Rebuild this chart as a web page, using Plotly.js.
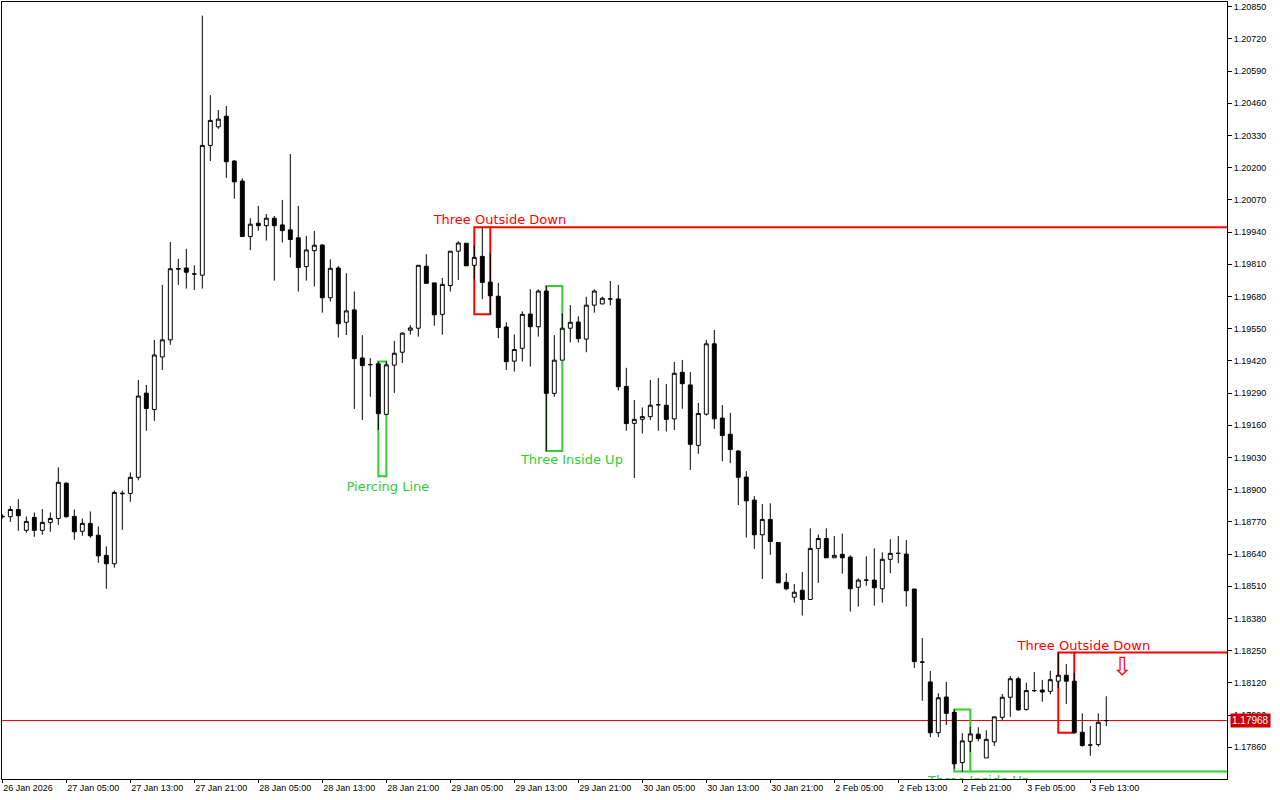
<!DOCTYPE html>
<html>
<head>
<meta charset="utf-8">
<script src="https://cdn.plot.ly/plotly-3.0.1.min.js"></script>
<style>html,body{margin:0;padding:0;background:#fff;}#chart{width:1280px;height:800px;}</style>
</head>
<body>
<div id="chart"></div>
<script>
// EURUSD H1 — bars from 26 Jan 2026 21:00 to 3 Feb 2026 15:00
const open = [
1.18793,1.18791,1.18820,1.18736,1.18788,1.18736,1.18768,1.18784,1.18926,1.18792,
1.18732,1.18764,1.18716,1.18635,1.18601,1.18886,1.18885,1.18950,1.19290,1.19224,
1.19436,1.19505,1.19793,1.19795,1.19771,1.19766,1.20290,1.20365,1.20408,1.20227,
1.20146,1.19922,1.19976,1.19966,1.19996,1.19969,1.19949,1.19917,1.19801,1.19865,
1.19888,1.19675,1.19795,1.19576,1.19626,1.19432,1.19405,1.19408,1.19204,1.19403,
1.19455,1.19544,1.19552,1.19802,1.19735,1.19608,1.19724,1.19863,1.19895,1.19806,
1.19842,1.19738,1.19681,1.19557,1.19419,1.19471,1.19609,1.19558,1.19702,1.19289,
1.19423,1.19552,1.19577,1.19508,1.19645,1.19650,1.19670,1.19670,1.19317,1.19168,
1.19184,1.19195,1.19243,1.19241,1.19186,1.19374,1.19323,1.19079,1.19205,1.19489,
1.19189,1.19124,1.19056,1.18951,1.18858,1.18718,1.18780,1.18687,1.18526,1.18466,
1.18494,1.18457,1.18663,1.18703,1.18625,1.18639,1.18628,1.18506,1.18535,1.18535,
1.18500,1.18619,1.18643,1.18640,1.18499,1.18204,1.18124,1.17919,1.18063,1.18001,
1.17798,1.17884,1.17913,1.17817,1.17882,1.17981,1.18062,1.18137,1.18013,1.18089,
1.18091,1.18086,1.18127,1.18151,1.18127,1.17921,1.17869,1.17871,1.17968];
const high = [
1.18801,1.18834,1.18862,1.18792,1.18808,1.18822,1.18808,1.18990,1.18930,1.18820,
1.18784,1.18812,1.18752,1.18671,1.18897,1.18897,1.18970,1.19343,1.19323,1.19505,
1.19727,1.19900,1.19832,1.19873,1.19806,1.20814,1.20493,1.20433,1.20449,1.20230,
1.20157,1.19996,1.20046,1.20013,1.20005,1.20070,1.20255,1.20046,1.19925,1.19945,
1.19891,1.19830,1.19803,1.19774,1.19700,1.19524,1.19431,1.19417,1.19418,1.19501,
1.19536,1.19564,1.19806,1.19851,1.19735,1.19755,1.19863,1.19903,1.19895,1.19887,
1.19960,1.19855,1.19735,1.19576,1.19527,1.19620,1.19709,1.19709,1.19723,1.19524,
1.19612,1.19645,1.19600,1.19679,1.19709,1.19679,1.19743,1.19727,1.19392,1.19262,
1.19232,1.19343,1.19351,1.19327,1.19416,1.19424,1.19375,1.19250,1.19505,1.19545,
1.19242,1.19210,1.19060,1.18975,1.18874,1.18842,1.18845,1.18687,1.18563,1.18519,
1.18568,1.18744,1.18719,1.18744,1.18713,1.18723,1.18635,1.18542,1.18631,1.18663,
1.18647,1.18700,1.18713,1.18697,1.18499,1.18301,1.18168,1.18078,1.18124,1.18013,
1.17917,1.17943,1.17941,1.17929,1.17983,1.18075,1.18148,1.18145,1.18121,1.18164,
1.18132,1.18169,1.18243,1.18196,1.18161,1.17997,1.17946,1.17997,1.18066];
const low = [
1.18783,1.18770,1.18734,1.18726,1.18710,1.18718,1.18730,1.18758,1.18787,1.18698,
1.18714,1.18706,1.18605,1.18500,1.18585,1.18738,1.18851,1.18938,1.19138,1.19178,
1.19383,1.19485,1.19727,1.19712,1.19706,1.19712,1.20227,1.20357,1.20159,1.20075,
1.19922,1.19867,1.19946,1.19906,1.19744,1.19898,1.19837,1.19700,1.19744,1.19720,
1.19615,1.19659,1.19514,1.19524,1.19226,1.19181,1.19275,1.19141,1.19204,1.19291,
1.19412,1.19526,1.19518,1.19733,1.19562,1.19526,1.19700,1.19747,1.19804,1.19749,
1.19669,1.19608,1.19512,1.19383,1.19377,1.19417,1.19397,1.19518,1.19056,1.19275,
1.19423,1.19495,1.19494,1.19455,1.19615,1.19649,1.19644,1.19300,1.19138,1.18947,
1.19127,1.19181,1.19138,1.19135,1.19141,1.19227,1.18980,1.19045,1.19199,1.19146,
1.19015,1.19007,1.18838,1.18707,1.18661,1.18540,1.18637,1.18524,1.18494,1.18444,
1.18392,1.18457,1.18524,1.18625,1.18625,1.18561,1.18408,1.18428,1.18512,1.18432,
1.18444,1.18563,1.18603,1.18428,1.18180,1.18048,1.17901,1.17901,1.17950,1.17773,
1.17762,1.17841,1.17884,1.17817,1.17865,1.17970,1.17983,1.18008,1.18008,1.18083,
1.18044,1.18074,1.18099,1.18035,1.17919,1.17863,1.17826,1.17863,1.17946];
const close = [
1.18791,1.18820,1.18795,1.18772,1.18736,1.18768,1.18784,1.18930,1.18791,1.18730,
1.18764,1.18714,1.18633,1.18601,1.18889,1.18884,1.18950,1.19278,1.19228,1.19444,
1.19505,1.19792,1.19791,1.19778,1.19771,1.20290,1.20391,1.20396,1.20224,1.20143,
1.19922,1.19972,1.19966,1.19996,1.19966,1.19946,1.19910,1.19797,1.19868,1.19887,
1.19675,1.19794,1.19570,1.19622,1.19429,1.19401,1.19405,1.19207,1.19404,1.19451,
1.19532,1.19553,1.19806,1.19733,1.19606,1.19729,1.19863,1.19896,1.19804,1.19838,
1.19737,1.19683,1.19555,1.19417,1.19466,1.19608,1.19558,1.19702,1.19289,1.19423,
1.19552,1.19576,1.19510,1.19645,1.19702,1.19673,1.19670,1.19316,1.19167,1.19184,
1.19195,1.19241,1.19243,1.19184,1.19370,1.19328,1.19083,1.19208,1.19489,1.19186,
1.19119,1.19062,1.18950,1.18855,1.18718,1.18780,1.18691,1.18524,1.18500,1.18486,
1.18457,1.18663,1.18703,1.18625,1.18635,1.18625,1.18500,1.18535,1.18535,1.18504,
1.18619,1.18643,1.18643,1.18492,1.18206,1.18204,1.17919,1.18060,1.17997,1.17793,
1.17886,1.17914,1.17895,1.17892,1.17983,1.18062,1.18137,1.18011,1.18089,1.18089,
1.18083,1.18133,1.18151,1.18127,1.17919,1.17867,1.17869,1.17961,1.17968];

// x-axis labels, one every 8 bars
const tickLabels = ['26 Jan 2026','27 Jan 05:00','27 Jan 13:00','27 Jan 21:00','28 Jan 05:00',
  '28 Jan 13:00','28 Jan 21:00','29 Jan 05:00','29 Jan 13:00','29 Jan 21:00','30 Jan 05:00',
  '30 Jan 13:00','30 Jan 21:00','2 Feb 05:00','2 Feb 13:00','2 Feb 21:00','3 Feb 05:00','3 Feb 13:00'];
const barsPerLabel = 8;

// candlestick pattern markings
const patternNames  = ['Piercing Line','Three Outside Down','Three Inside Up','Three Inside Up','Three Outside Down'];
const patternFirst  = [47, 59, 68, 119, 132];
const patternLast   = [48, 61, 70, 121, 134];
const patternTop    = [1.19418, 1.19960, 1.19722, 1.18013, 1.18243];
const patternBottom = [1.18954, 1.19608, 1.19056, 1.17762, 1.17919];
const patternBull   = [true, false, true, true, false];
const patternLevel  = [null, 'top', null, 'bottom', 'top'];
const labelX = [48.2, 62.2, 71.2, 122.1, 135.2];
const labelY = [1.18909, 1.19985, 1.19017, 1.17722, 1.18266];
const signalX = [140];
const signalY = [1.18176];

const RED = '#ff0000', GREEN = '#32cd32';
const idx = close.map((_, i) => i);
const tickvals = tickLabels.map((_, k) => k * barsPerLabel);

const candles = {
  type: 'candlestick', x: idx, open: open, high: high, low: low, close: close,
  increasing: {line: {color: '#000', width: 1}, fillcolor: '#fff'},
  decreasing: {line: {color: '#000', width: 1}, fillcolor: '#000'},
  whiskerwidth: 0, hoverinfo: 'skip', showlegend: false
};
const labels = {
  type: 'scatter', mode: 'text', x: labelX, y: labelY, text: patternNames,
  textposition: 'middle center', cliponaxis: true,
  textfont: {family: 'DejaVu Sans', size: 13, color: patternBull.map(b => b ? GREEN : RED)},
  hoverinfo: 'skip', showlegend: false
};
const signal = {
  type: 'scatter', mode: 'text', x: signalX, y: signalY, text: ['⇩'],
  textposition: 'middle center', cliponaxis: true,
  textfont: {family: 'DejaVu Sans', size: 25, color: RED},
  hoverinfo: 'skip', showlegend: false
};

const shapes = [];
patternNames.forEach((n, k) => {
  const col = patternBull[k] ? GREEN : RED;
  shapes.push({type: 'rect', xref: 'x', yref: 'y', layer: 'below',
    x0: patternFirst[k], x1: patternLast[k], y0: patternBottom[k], y1: patternTop[k],
    line: {color: col, width: 2}, fillcolor: 'rgba(0,0,0,0)'});
  if (patternLevel[k]) {
    const lv = patternLevel[k] === 'top' ? patternTop[k] : patternBottom[k];
    shapes.push({type: 'line', xref: 'x', yref: 'y', layer: 'below',
      x0: patternLast[k], x1: 400, y0: lv, y1: lv, line: {color: col, width: 2}});
  }
});
const last = close[close.length - 1];
shapes.push({type: 'line', xref: 'paper', yref: 'y', x0: 0, x1: 1, y0: last, y1: last,
  layer: 'below', line: {color: '#e00000', width: 1}});

const layout = {
  width: 1280, height: 800,
  margin: {l: 2, r: 53, t: 2, b: 21, pad: 0},
  paper_bgcolor: '#fff', plot_bgcolor: '#fff',
  showlegend: false, dragmode: false,
  font: {family: 'Liberation Sans', size: 9, color: '#000'},
  xaxis: {
    type: 'linear', range: [-0.04, 153.09], rangeslider: {visible: false},
    tickvals: tickvals, ticktext: tickLabels, ticklabelposition: 'outside right',
    ticks: 'outside', ticklen: 3, tickcolor: '#000', tickwidth: 1,
    showgrid: false, zeroline: false, showline: true, linecolor: '#000', linewidth: 1, mirror: true,
    tickfont: {family: 'Liberation Sans', size: 9, color: '#000'}, fixedrange: true
  },
  yaxis: {
    side: 'right', range: [1.17732, 1.20869], tick0: 1.17860, dtick: 0.0013, tickformat: '.5f',
    ticks: 'outside', ticklen: 4, tickcolor: '#000', tickwidth: 1,
    showgrid: false, zeroline: false, showline: true, linecolor: '#000', linewidth: 1, mirror: true,
    tickfont: {family: 'Liberation Sans', size: 9, color: '#000'}, fixedrange: true
  },
  shapes: shapes,
  annotations: [{
    xref: 'paper', yref: 'y', x: 1, y: last, xanchor: 'left', yanchor: 'middle', xshift: 3,
    text: last.toFixed(5), showarrow: false, bgcolor: '#cc0000', borderpad: 1,
    font: {family: 'Liberation Sans', size: 10, color: '#fff'}
  }]
};

Plotly.newPlot('chart', [candles, labels, signal], layout, {displayModeBar: false, staticPlot: true});
</script>
</body>
</html>
